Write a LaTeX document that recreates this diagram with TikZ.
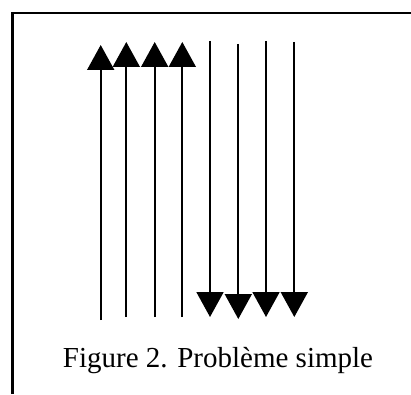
\documentclass[tikz,border=0pt]{standalone}
\usepackage{fontspec}
\setmainfont{Liberation Serif}
\usetikzlibrary{arrows.meta}
\tikzset{
  flow/.style={line width=1.9pt,-{Triangle[width=27pt,length=25pt]}},
  frame/.style={line width=2.2pt},
}
\begin{document}
\begin{tikzpicture}[x=1pt,y=1pt,font=\fontsize{29}{34}\selectfont]
  \useasboundingbox (0,0) rectangle (411,394);
  \draw[frame] (12.5,0) -- (12.5,381) -- (411,381);
  \foreach \i/\x/\lo/\hi in {1/100.7/74/349, 2/126.3/77/352, 3/154.7/77/352, 4/182.3/77/352}{
    \coordinate (up\i a) at (\x,\lo);
    \coordinate (up\i b) at (\x,\hi);
    \draw[flow] (up\i a) -- (up\i b);}
  \foreach \i/\x/\hi/\lo in {1/210/353/77, 2/238.3/350/75, 3/266/353/77, 4/294.3/352/77}{
    \coordinate (dn\i a) at (\x,\hi);
    \coordinate (dn\i b) at (\x,\lo);
    \draw[flow] (dn\i a) -- (dn\i b);}
  \node[anchor=base,inner sep=0pt] (caption) at (218,27) {Figure 2. Problème simple};
\end{tikzpicture}
\end{document}
